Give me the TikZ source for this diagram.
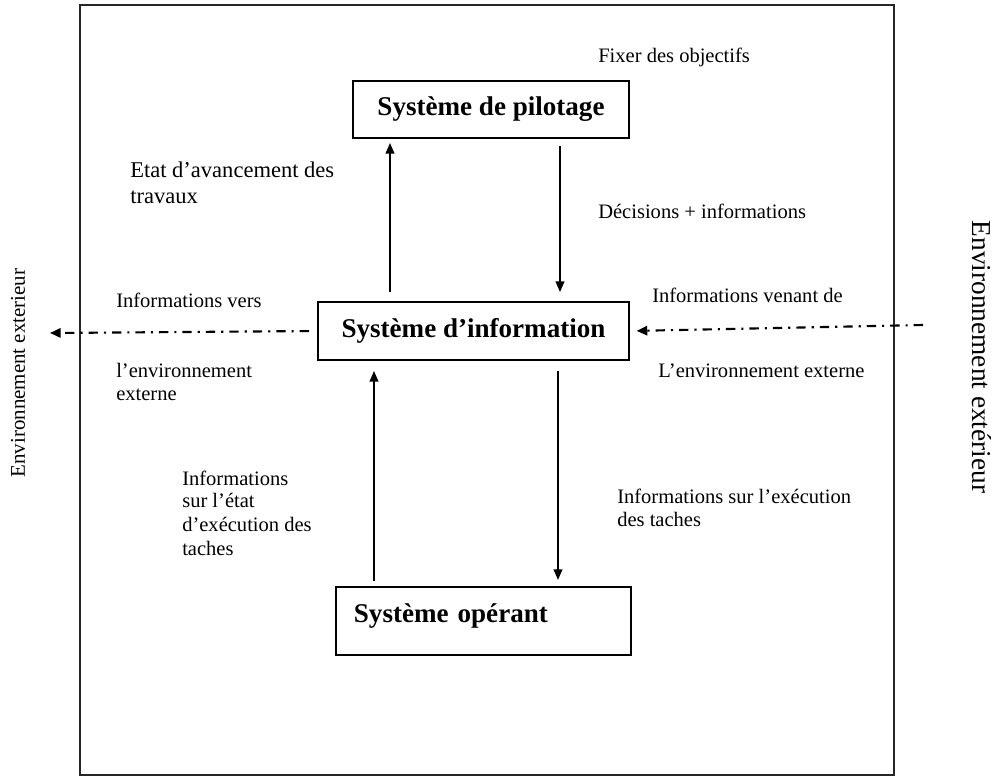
\documentclass[tikz,border=0pt]{standalone}
\usepackage{fontspec}
\setmainfont{Liberation Serif}
\usetikzlibrary{arrows.meta}
\begin{document}
\begin{tikzpicture}[x=0.75pt,y=-0.75pt,
  lbl/.style={font=\fontsize{15.4}{18}\selectfont, anchor=base west, inner sep=0pt},
  biglbl/.style={font=\fontsize{16.9}{20}\selectfont, anchor=base west, inner sep=0pt},
  sysbox/.style={draw, line width=1.4pt, font=\bfseries\fontsize{20.3}{24}\selectfont, inner sep=0pt},
  arr/.style={line width=1.4pt, -{Triangle[length=8pt,width=6.5pt]}},
  dd/.style={line width=1.6pt, dash pattern=on 7pt off 4.5pt on 1.6pt off 4.5pt, -{Triangle[length=8pt,width=7pt]}}
]
\useasboundingbox (0,0) rectangle (993,776);
% outer frame
\draw[line width=1.6pt, black!85] (80,5) rectangle (894,775);

% boxes
\node[sysbox, minimum width=207pt, minimum height=42.75pt] (pil) at (491,109.5) {Système de pilotage};
\node[sysbox, minimum width=233.25pt, minimum height=43.5pt] (info) at (473.5,331) {Système d’information};
\node[sysbox, anchor=north west, inner xsep=13.5pt, text width=194pt, align=left,
      text height=27pt, text depth=24pt] (op) at (335,586) {Système opérant};

% vertical connectors
\coordinate (x1) at (390,0);
\coordinate (x2) at (560,0);
\coordinate (x3) at (374,0);
\coordinate (x4) at (558,0);
\draw[arr, shorten <=6.75pt, shorten >=3pt] (info.north -| x1) -- (pil.south -| x1);
\draw[arr, shorten <=5.25pt, shorten >=6.75pt] (pil.south -| x2) -- (info.north -| x2);
\draw[arr, shorten <=3.75pt, shorten >=7.5pt] (op.north -| x3) -- (info.south -| x3);
\draw[arr, shorten <=7.5pt, shorten >=4.5pt] (info.south -| x4) -- (op.north -| x4);

% environment connectors
\coordinate (envL) at (50,333);
\coordinate (envR) at (923,325);
\draw[dd, shorten <=6pt] (info.west) -- (envL);
\draw[dd, shorten >=5pt] (envR) -- (info.east);

% labels
\node[lbl] (l1) at (598,62) {Fixer des objectifs};
\node[biglbl] (l2a) at (130,177) {Etat d’avancement des};
\node[biglbl] (l2b) at (130,203) {travaux};
\node[lbl] (l3) at (598,218) {Décisions + informations};
\node[lbl] (l4) at (116,307) {Informations vers};
\node[lbl] (l5a) at (116,377) {l’environnement};
\node[lbl] (l5b) at (116,400) {externe};
\node[lbl] (l6) at (652,302) {Informations venant de};
\node[lbl] (l7) at (658,377) {L’environnement externe};
\node[lbl] (l8a) at (182,485) {Informations};
\node[lbl] (l8b) at (182,507) {sur l’état};
\node[lbl] (l8c) at (182,531) {d’exécution des};
\node[lbl] (l8d) at (182,555) {taches};
\node[lbl] (l9a) at (617,503) {Informations sur l’exécution};
\node[lbl] (l9b) at (617,526) {des taches};

% side labels
\node[rotate=90, inner sep=0pt, font=\fontsize{15.7}{19}\selectfont] (envleft) at (18,373) {Environnement exterieur};
\node[rotate=-90, inner sep=0pt, font=\fontsize{20.5}{24}\selectfont] (envright) at (982,357) {Environnement extérieur};
\end{tikzpicture}
\end{document}
